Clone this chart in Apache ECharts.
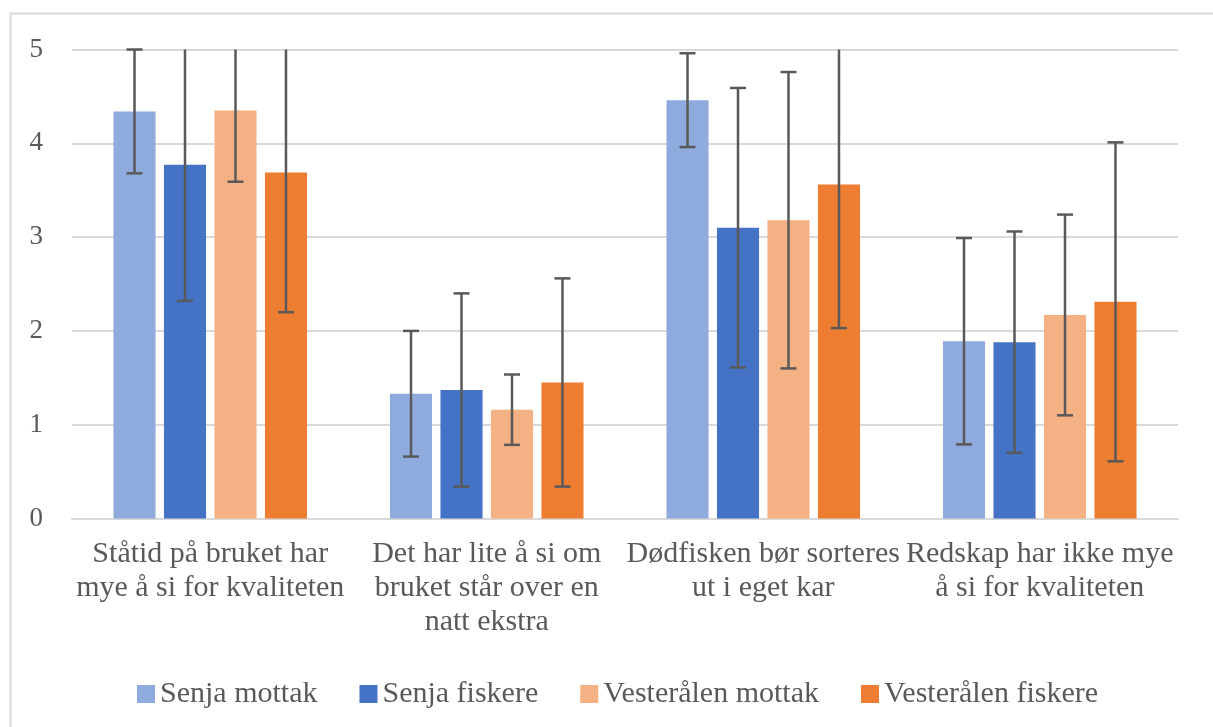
<!DOCTYPE html>
<html>
<head>
<meta charset="utf-8">
<script src="https://cdn.jsdelivr.net/npm/echarts@6/dist/echarts.min.js"></script>
<style>
  html, body { margin: 0; padding: 0; background: #fff; }
  #chart { width: 1213px; height: 727px; }
</style>
</head>
<body>
<div id="chart"></div>
<script>
// kategorier (med linjeskift som i originalen)
var categories = [
  'Ståtid på bruket har\nmye å si for kvaliteten',
  'Det har lite å si om\nbruket står over en\nnatt ekstra',
  'Dødfisken bør sorteres\nut i eget kar',
  'Redskap har ikke mye\nå si for kvaliteten'
];
var seriesNames = ['Senja mottak', 'Senja fiskere', 'Vesterålen mottak', 'Vesterålen fiskere'];

// gjennomsnitt
var senjaMottak = [4.34, 1.33, 4.46, 1.89];
var senjaFiskere = [3.77, 1.37, 3.10, 1.88];
var vestMottak = [4.35, 1.16, 3.18, 2.17];
var vestFiskere = [3.69, 1.45, 3.56, 2.31];

// standardavvik (feilfelt)
var senjaMottakSd = [0.66, 0.67, 0.50, 1.10];
var senjaFiskereSd = [1.45, 1.03, 1.49, 1.18];
var vestMottakSd = [0.76, 0.375, 1.58, 1.07];
var vestFiskereSd = [1.49, 1.11, 1.53, 1.70];

var yTicks = [0, 1, 2, 3, 4, 5];

var means = [senjaMottak, senjaFiskere, vestMottak, vestFiskere];
var sds = [senjaMottakSd, senjaFiskereSd, vestMottakSd, vestFiskereSd];
var colors = ['#8FAADC', '#4472C4', '#F4B183', '#ED7D31'];
var yMax = yTicks[yTicks.length - 1];
var catGap = 0.3, barGap = 0.2;

// data til feilfeltene: [kategori, serie, snitt, sd]
var errData = [];
means.forEach(function (arr, s) {
  arr.forEach(function (v, c) {
    errData.push([c, s, v, sds[s][c]]);
  });
});

var font = '"Liberation Serif", "Times New Roman", serif';
var chart = echarts.init(document.getElementById('chart'));

var series = means.map(function (arr, s) {
  return {
    name: seriesNames[s],
    type: 'bar',
    data: arr,
    barCategoryGap: '30%',
    barGap: '20%',
    itemStyle: { color: colors[s] },
    animation: false
  };
});

series.push({
  type: 'custom',
  data: errData,
  z: 10,
  clip: false,
  animation: false,
  encode: { x: 0, y: 2 },
  renderItem: function (params, api) {
    var c = api.value(0), s = api.value(1), m = api.value(2), sd = api.value(3);
    var catW = api.size([1, 0])[0];
    var n = means.length;
    var barW = catW * (1 - catGap) / (n + (n - 1) * barGap);
    var total = n * barW + (n - 1) * barGap * barW;
    var x = api.coord([c, 0])[0] - total / 2 + barW / 2 + s * barW * (1 + barGap);
    var hiV = m + sd, loV = Math.max(m - sd, 0);
    var yHi = api.coord([c, Math.min(hiV, yMax)])[1];
    var yLo = api.coord([c, loV])[1];
    var capW = 8;
    var st = { stroke: '#595959', lineWidth: 2.5 };
    var kids = [
      { type: 'line', shape: { x1: x, y1: yHi, x2: x, y2: yLo }, style: st },
      { type: 'line', shape: { x1: x - capW, y1: yLo, x2: x + capW, y2: yLo }, style: st }
    ];
    // toppstrek bare når feilfeltet ikke går over aksen
    if (hiV <= yMax + 0.001) {
      kids.push({ type: 'line', shape: { x1: x - capW, y1: yHi, x2: x + capW, y2: yHi }, style: st });
    }
    return { type: 'group', children: kids };
  }
});

chart.setOption({
  backgroundColor: '#fff',
  textStyle: { fontFamily: font },
  graphic: [{
    type: 'rect',
    left: 8, top: 11,
    shape: { width: 1240, height: 760 },
    style: { fill: 'none', stroke: '#d9d9d9', lineWidth: 2 },
    silent: true
  }],
  grid: { left: 72, right: 35, top: 49.5, bottom: 208.5 },
  legend: {
    data: seriesNames,
    left: 132,
    top: 674,
    icon: 'rect',
    itemWidth: 18,
    itemHeight: 18,
    itemGap: 42,
    textStyle: { fontFamily: font, fontSize: 30, lineHeight: 30, color: '#595959' }
  },
  xAxis: {
    type: 'category',
    data: categories,
    axisLine: { lineStyle: { color: '#d9d9d9', width: 2 } },
    axisTick: { show: false },
    axisLabel: {
      interval: 0,
      margin: 19,
      fontFamily: font,
      fontSize: 30,
      lineHeight: 34,
      color: '#595959'
    }
  },
  yAxis: {
    type: 'value',
    min: yTicks[0],
    max: yMax,
    interval: 1,
    axisLine: { show: false },
    axisTick: { show: false },
    splitLine: { lineStyle: { color: '#d9d9d9', width: 2 } },
    axisLabel: { margin: 29, fontFamily: font, fontSize: 27, color: '#595959' }
  },
  series: series
});
</script>
</body>
</html>
